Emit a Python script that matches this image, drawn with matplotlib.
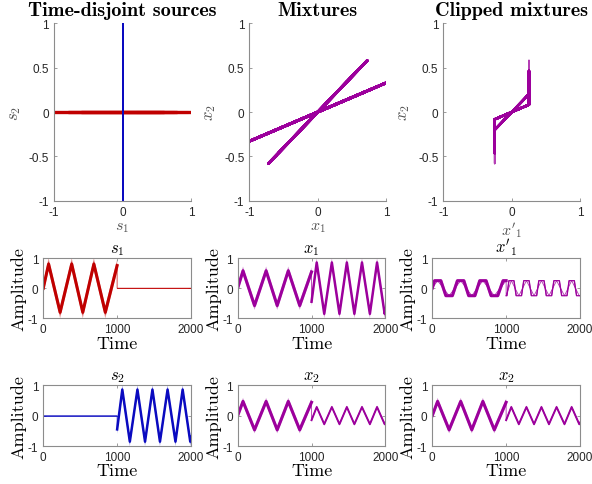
import numpy as np
import matplotlib.pyplot as plt

plt.rcParams["mathtext.fontset"] = "cm"
plt.rcParams["axes.unicode_minus"] = False
plt.rcParams["font.family"] = "Liberation Sans"

# source 1 plays during the first 1000 samples, source 2 during the rest
s1_t = np.array([0, 72, 228, 385, 535, 685, 840, 1000])
s1_v = np.array([0.0, 0.8, -0.8, 0.8, -0.8, 0.8, -0.8, 0.75])
s2_t = np.array([1000, 1070, 1172, 1275, 1378, 1478, 1580, 1683, 1790, 1887, 1990, 2000])
s2_v = np.array([-0.45, 0.85, -0.85, 0.85, -0.85, 0.85, -0.85, 0.85, -0.85, 0.85, -0.85, -0.7])
s1_noise = 0.2
s2_noise = 0.15

# rows give x1 and x2 as mixes of s1 and s2
mix = np.array([[0.72, 1.0],
                [0.58, 0.33]])
clip_level = 0.25

red = "#c00000"
blue = "#0a0ac0"
purple = "#9c009c"
frame = "#8c8c8c"
ink = "#262626"

n1, n2 = len(s1_t), len(s2_t)
t_all = np.r_[s1_t, s2_t]
s1_all = np.r_[s1_v, np.zeros(n2)]
s2_all = np.r_[np.zeros(n1), s2_v]
w1_all = np.r_[np.full(n1, s1_noise), np.zeros(n2)]
w2_all = np.r_[np.zeros(n1), np.full(n2, s2_noise)]
halves = [slice(0, n1), slice(n1, None)]


def sources(k):
    # k scales the noise spread: 0 is the clean wave, +-1 the edges of the band
    return s1_all + k * w1_all, s2_all + k * w2_all


def mixtures(k):
    a, b = sources(k)
    return mix @ np.vstack([a, b])


def clip_path(t, u, v, lo, hi):
    # add the points where u meets a clip level so corners survive the clipping
    tt, uu, vv = [t[0]], [u[0]], [v[0]]
    for i in range(1, len(t)):
        u0, u1 = u[i - 1], u[i]
        hits = []
        if u1 != u0:
            for level in (lo, hi):
                f = (level - u0) / (u1 - u0)
                if 0 < f < 1:
                    hits.append(f)
        for f in sorted(hits):
            tt.append(t[i - 1] + f * (t[i] - t[i - 1]))
            uu.append(u0 + f * (u1 - u0))
            vv.append(v[i - 1] + f * (v[i] - v[i - 1]))
        tt.append(t[i])
        uu.append(u1)
        vv.append(v[i])
    return np.array(tt), np.clip(uu, lo, hi), np.array(vv)


def draw_signal(ax, edges, color, lws, lo=-np.inf, hi=np.inf):
    # edges(k) returns the signal with k times the noise spread added
    for k, alpha in ((1.0, 0.4), (0.5, 0.85)):
        tu, yu, _ = clip_path(t_all, edges(k), t_all, lo, hi)
        tl, yl, _ = clip_path(t_all, edges(-k), t_all, lo, hi)
        ax.fill(np.r_[tu, tl[::-1]], np.r_[yu, yl[::-1]], color=color,
                alpha=alpha, lw=0)
    core = edges(0)
    ax.plot(t_all, np.clip(core, lo, hi), color=color, lw=0.6, alpha=0.8)
    for h, lw in zip(halves, lws):
        tc, yc, _ = clip_path(t_all[h], core[h], t_all[h], lo, hi)
        ax.plot(tc, yc, color=color, lw=lw)


fig = plt.figure(figsize=(5.92, 4.85), dpi=100)

cols = [0.0912, 0.4211, 0.7488]
top_axes = [fig.add_axes([x, 0.5841, 0.2316, 0.3658]) for x in cols]
cols2 = [0.0731, 0.4015, 0.7302]
mid_axes = [fig.add_axes([x, 0.3416, 0.2495, 0.1243]) for x in cols2]
low_axes = [fig.add_axes([x, 0.0779, 0.2495, 0.1262]) for x in cols2]

# scatter panels
ax = top_axes[0]
for h, c, lw in ((halves[0], red, 2.2), (halves[1], blue, 1.3)):
    for k in (-1, 0, 1):
        a, b = sources(k)
        ax.plot(a[h], b[h], color=c, lw=lw, solid_capstyle="butt")
ax.set_xlabel(r"$s_1$")
ax.set_ylabel(r"$s_2$")

ax = top_axes[1]
for h in halves:
    for k in (-1, 0, 1):
        x1, x2 = mixtures(k)
        ax.plot(x1[h], x2[h], color=purple, lw=2.0, solid_capstyle="butt")
ax.set_xlabel(r"$x_1$")
ax.set_ylabel(r"$x_2$")

ax = top_axes[2]
for h in halves:
    for k in (-1, 0, 1):
        x1, x2 = mixtures(k)
        _, c1, c2 = clip_path(t_all[h], x1[h], x2[h], -clip_level, clip_level)
        ax.plot(c1, c2, color=purple, lw=1.8 if k == 0 else 1.1,
                alpha=1.0 if k == 0 else 0.75, solid_capstyle="butt")
ax.set_xlabel(r"$x'_1$")
ax.set_ylabel(r"$x_2$")

titles = ["Time-disjoint sources", "Mixtures", "Clipped mixtures"]
for ax, title in zip(top_axes, titles):
    ax.set_xlim(-1, 1)
    ax.set_ylim(-1, 1)
    ax.set_xticks([-1, 0, 1])
    ax.set_yticks([-1, -0.5, 0, 0.5, 1])
    ax.set_yticklabels(["-1", "-0.5", "0", "0.5", "1"])
    ax.spines[["top", "right"]].set_visible(False)
    ax.set_title(title, fontfamily="cmb10", fontsize=14.5, pad=6)
    ax.xaxis.label.set_color("#555555")
    ax.yaxis.label.set_color("#555555")
    ax.xaxis.label.set_fontsize(11.5)
    ax.yaxis.label.set_fontsize(12)
    ax.xaxis.labelpad = 1

# time signals
draw_signal(mid_axes[0], lambda k: sources(k)[0], red, (2.2, 0.6))
draw_signal(low_axes[0], lambda k: sources(k)[1], blue, (0.6, 1.8))
draw_signal(mid_axes[1], lambda k: mixtures(k)[0], purple, (2.2, 1.8))
draw_signal(low_axes[1], lambda k: mixtures(k)[1], purple, (2.2, 1.4))
draw_signal(mid_axes[2], lambda k: mixtures(k)[0], purple, (2.2, 0.9),
            -clip_level, clip_level)
draw_signal(low_axes[2], lambda k: mixtures(k)[1], purple, (2.2, 1.4))

mid_titles = [r"$s_1$", r"$x_1$", r"$x'_1$"]
low_titles = [r"$s_2$", r"$x_2$", r"$x_2$"]
for ax, title in zip(mid_axes + low_axes, mid_titles + low_titles):
    ax.set_xlim(0, 2000)
    ax.set_ylim(-1, 1)
    ax.set_xticks([0, 1000, 2000])
    ax.set_yticks([-1, 0, 1])
    ax.set_title(title, fontsize=12, pad=4)
    ax.set_xlabel("Time", fontfamily="cmr10", fontsize=13, labelpad=0)
    ax.set_ylabel("Amplitude", fontfamily="cmr10", fontsize=13, labelpad=1)
    ax.tick_params(top=True, right=True)

for ax in top_axes + mid_axes + low_axes:
    for s in ax.spines.values():
        s.set_color(frame)
        s.set_linewidth(0.8)
    ax.tick_params(direction="in", length=2.5, width=0.6, color=frame,
                   labelsize=8.5, labelcolor=ink, pad=3.5)

fig.savefig("out.png", dpi=100)
